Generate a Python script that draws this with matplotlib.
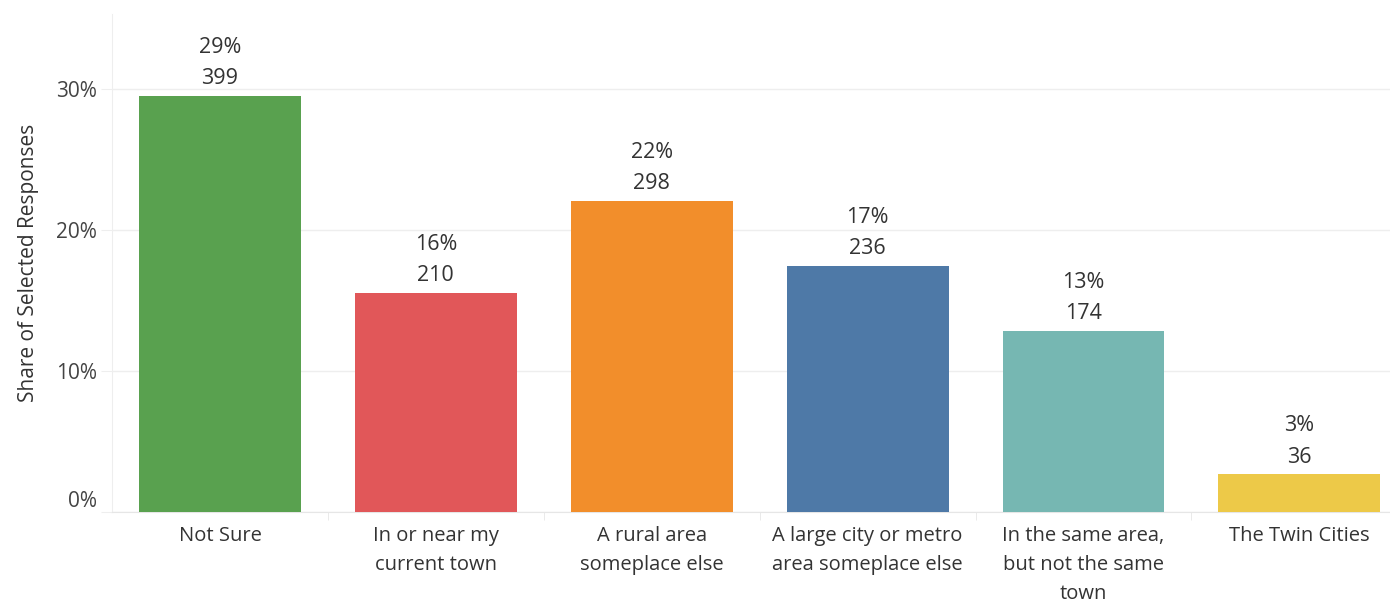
import matplotlib.pyplot as plt

categories = ['Not Sure', 'In or near my\ncurrent town', 'A rural area\nsomeplace else',
              'A large city or metro\narea someplace else', 'In the same area,\nbut not the same\ntown',
              'The Twin Cities']
counts = [399, 210, 298, 236, 174, 36]
colors = ['#59a14f', '#e15759', '#f28e2b', '#4e79a7', '#76b7b2', '#edc948']

total = sum(counts)
shares = [c / total for c in counts]

plt.rcParams['font.family'] = ['Open Sans', 'DejaVu Sans']

fig = plt.figure(figsize=(13.9, 6.06), dpi=100)
ax = fig.add_axes([0.0806, 0.1551, 1 - 0.0806, 0.8218])

x = list(range(len(categories)))
bars = ax.bar(x, shares, width=0.75, color=colors, zorder=3)

for xi, s, c in zip(x, shares, counts):
    ax.annotate(f'{round(s * 100)}%\n{c}', (xi, s), xytext=(0, 5), textcoords='offset points',
                ha='center', va='bottom', fontsize=15.5, color='#333333', linespacing=1.63)

ax.set_xlim(-0.5, 5.42)
ax.set_ylim(0, 0.353)
ax.set_yticks([0, 0.1, 0.2, 0.3])
ax.set_yticklabels(['0%', '10%', '20%', '30%'])
ax.set_xticks(x)
ax.set_xticklabels(categories, linespacing=1.62)
ax.set_xticks([i + 0.5 for i in x[:-1]], minor=True)

ax.grid(axis='y', color='#eeeeee', linewidth=1, zorder=0)
for side in ['top', 'right']:
    ax.spines[side].set_visible(False)
ax.spines['left'].set_color('#eeeeee')
ax.spines['bottom'].set_color('#e6e6e6')

ax.tick_params(axis='y', length=8, color='#eeeeee', labelsize=15, labelcolor='#444444', pad=3)
ax.tick_params(axis='x', which='major', length=0, labelsize=14.5, labelcolor='#333333', pad=10)
ax.tick_params(axis='x', which='minor', length=6, color='#e6e6e6')
ax.get_yticklabels()[0].set_va('bottom')

ax.set_ylabel('Share of Selected Responses', fontsize=15, color='#333333', labelpad=12)

fig.savefig('out.png', dpi=100)
